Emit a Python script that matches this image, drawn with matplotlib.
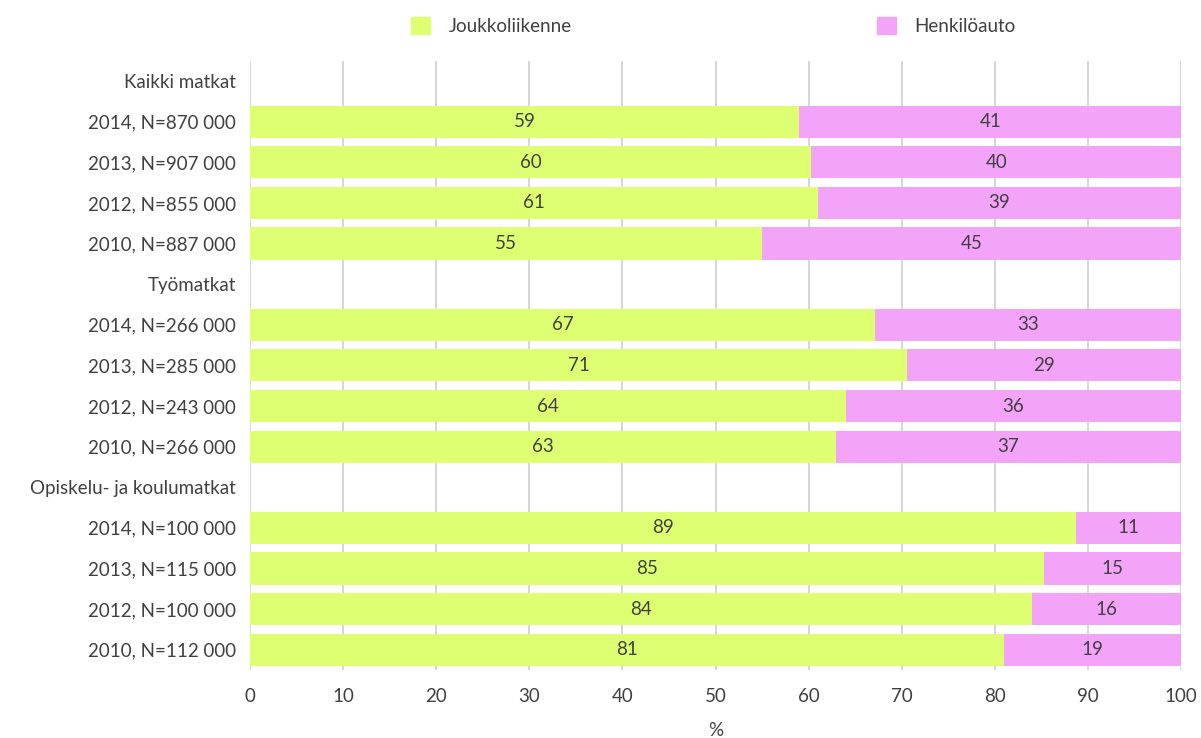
import numpy as np
import matplotlib.pyplot as plt
from matplotlib.patches import Patch

plt.rcParams["font.family"] = ["Lato", "DejaVu Sans"]

# --- Data (top to bottom); header rows have no values ---
labels = [
    "Kaikki matkat",
    "2014, N=870 000", "2013, N=907 000", "2012, N=855 000", "2010, N=887 000",
    "Työmatkat",
    "2014, N=266 000", "2013, N=285 000", "2012, N=243 000", "2010, N=266 000",
    "Opiskelu- ja koulumatkat",
    "2014, N=100 000", "2013, N=115 000", "2012, N=100 000", "2010, N=112 000",
]
joukko = [np.nan, 59.0, 60.3, 61.0, 55.0,
          np.nan, 67.1, 70.6, 64.0, 62.9,
          np.nan, 88.7, 85.3, 84.0, 81.0]
henkilo = [np.nan, 41.0, 39.7, 39.0, 45.0,
           np.nan, 32.9, 29.4, 36.0, 37.1,
           np.nan, 11.3, 14.7, 16.0, 19.0]

green = "#DFFF73"
pink = "#F4A4F8"
txt = "#404040"
fs = 13.5

fig = plt.figure(figsize=(12.01, 7.38), dpi=100)
ax = fig.add_axes([0.2082, 0.0921, 0.9834 - 0.2082, 0.9177 - 0.0921])

y = np.arange(len(labels))
j = np.array(joukko)
h = np.array(henkilo)
ax.barh(y, j, height=0.79, color=green, zorder=2)
ax.barh(y, h, left=j, height=0.79, color=pink, zorder=2)

for yi, a, b in zip(y, j, h):
    if np.isnan(a):
        continue
    ax.text(a / 2, yi, f"{round(a):.0f}", ha="center", va="center",
            fontsize=fs, color=txt, zorder=3)
    ax.text(a + b / 2, yi, f"{round(b):.0f}", ha="center", va="center",
            fontsize=fs, color=txt, zorder=3)

ax.set_xlim(0, 100)
ax.set_ylim(len(labels) - 0.5, -0.5)
ax.set_xticks(range(0, 101, 10))
ax.set_yticks(y)
ax.set_yticklabels(labels)
ax.tick_params(length=0, labelsize=fs, colors=txt)
ax.tick_params(axis="x", pad=13)
ax.tick_params(axis="y", pad=10)
ax.grid(True, axis="x", color="#D0D0D0", linewidth=1.2, zorder=0)
for s in ax.spines.values():
    s.set_visible(False)
ax.set_xlabel("%", fontsize=fs, color=txt, labelpad=12)

handles = [Patch(color=green, label="Joukkoliikenne"),
           Patch(color=pink, label="Henkilöauto")]
fig.legend(handles=handles, loc="center", bbox_to_anchor=(0.594, 0.965),
           ncol=2, frameon=False, fontsize=fs, labelcolor=txt,
           handlelength=1.0, handleheight=1.0, handletextpad=1.0,
           columnspacing=16.3)

fig.savefig("out.png", dpi=100)
